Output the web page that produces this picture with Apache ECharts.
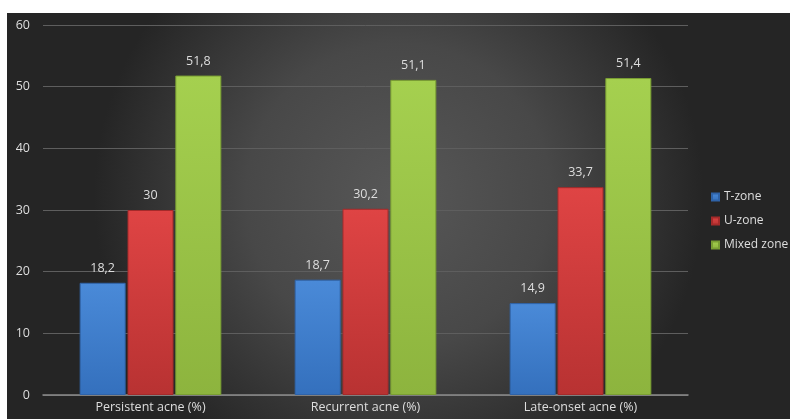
<!DOCTYPE html>
<html>
<head>
<meta charset="utf-8">
<script src="https://cdn.jsdelivr.net/npm/echarts@6/dist/echarts.min.js"></script>
<style>
html,body{margin:0;padding:0;background:#fff;}
#c{width:790px;height:419px;}
</style>
</head>
<body>
<div id="c"></div>
<script>
const categories = ['Persistent acne (%)', 'Recurrent acne (%)', 'Late-onset acne (%)'];
const tZone = [18.2, 18.7, 14.9];
const uZone = [30, 30.2, 33.7];
const mixedZone = [51.8, 51.1, 51.4];
const seriesNames = ['T-zone', 'U-zone', 'Mixed zone'];

const font = '"Open Sans", "Noto Sans", sans-serif';
function mkSeries(name, data, c1, c2, border) {
  return {
    name: name,
    type: 'bar',
    data: data,
    barWidth: 46,
    barGap: '4%',
    itemStyle: {
      color: new echarts.graphic.LinearGradient(0, 0, 0, 1, [
        {offset: 0, color: c1},
        {offset: 1, color: c2}
      ]),
      borderColor: border,
      borderWidth: 1
    },
    label: {
      show: true,
      position: 'top',
      distance: 8,
      color: '#dedede',
      fontFamily: font,
      fontSize: 12.5,
      formatter: p => String(p.value).replace('.', ',')
    }
  };
}
const chart = echarts.init(document.getElementById('c'));
chart.setOption({
  backgroundColor: 'transparent',
  animation: false,
  graphic: [{
    type: 'rect',
    z: -10,
    silent: true,
    shape: {x: 7, y: 13, width: 783, height: 406},
    style: {
      fill: new echarts.graphic.RadialGradient(0.5, 0.45, 0.75, [
        {offset: 0, color: '#575757'},
        {offset: 0.5, color: '#484848'},
        {offset: 1, color: '#252525'}
      ])
    }
  }],
  grid: {left: 43, right: 102, top: 25, bottom: 24, containLabel: false},
  legend: {
    orient: 'vertical',
    left: 706,
    top: 186,
    itemWidth: 7,
    itemHeight: 7,
    itemGap: 12,
    icon: 'rect',
    textStyle: {color: '#dedede', fontFamily: font, fontSize: 12},
    data: seriesNames
  },
  xAxis: {
    type: 'category',
    data: categories,
    axisLine: {lineStyle: {color: '#8c8c8c', width: 1.5}},
    axisTick: {show: false},
    axisLabel: {color: '#dedede', fontFamily: font, fontSize: 12.5, margin: 6}
  },
  yAxis: {
    type: 'value',
    min: 0,
    max: 60,
    interval: 10,
    axisLine: {show: false},
    axisTick: {show: false},
    axisLabel: {color: '#dedede', fontFamily: font, fontSize: 12.5, margin: 13},
    splitLine: {lineStyle: {color: '#5e5e5e', width: 1}}
  },
  series: [
    mkSeries(seriesNames[0], tZone, '#4a8ad8', '#3470bd', '#2f63a8'),
    mkSeries(seriesNames[1], uZone, '#df4444', '#b83232', '#a52a2a'),
    mkSeries(seriesNames[2], mixedZone, '#a5d04f', '#8db43e', '#7a9e33')
  ]
});
</script>
</body>
</html>
